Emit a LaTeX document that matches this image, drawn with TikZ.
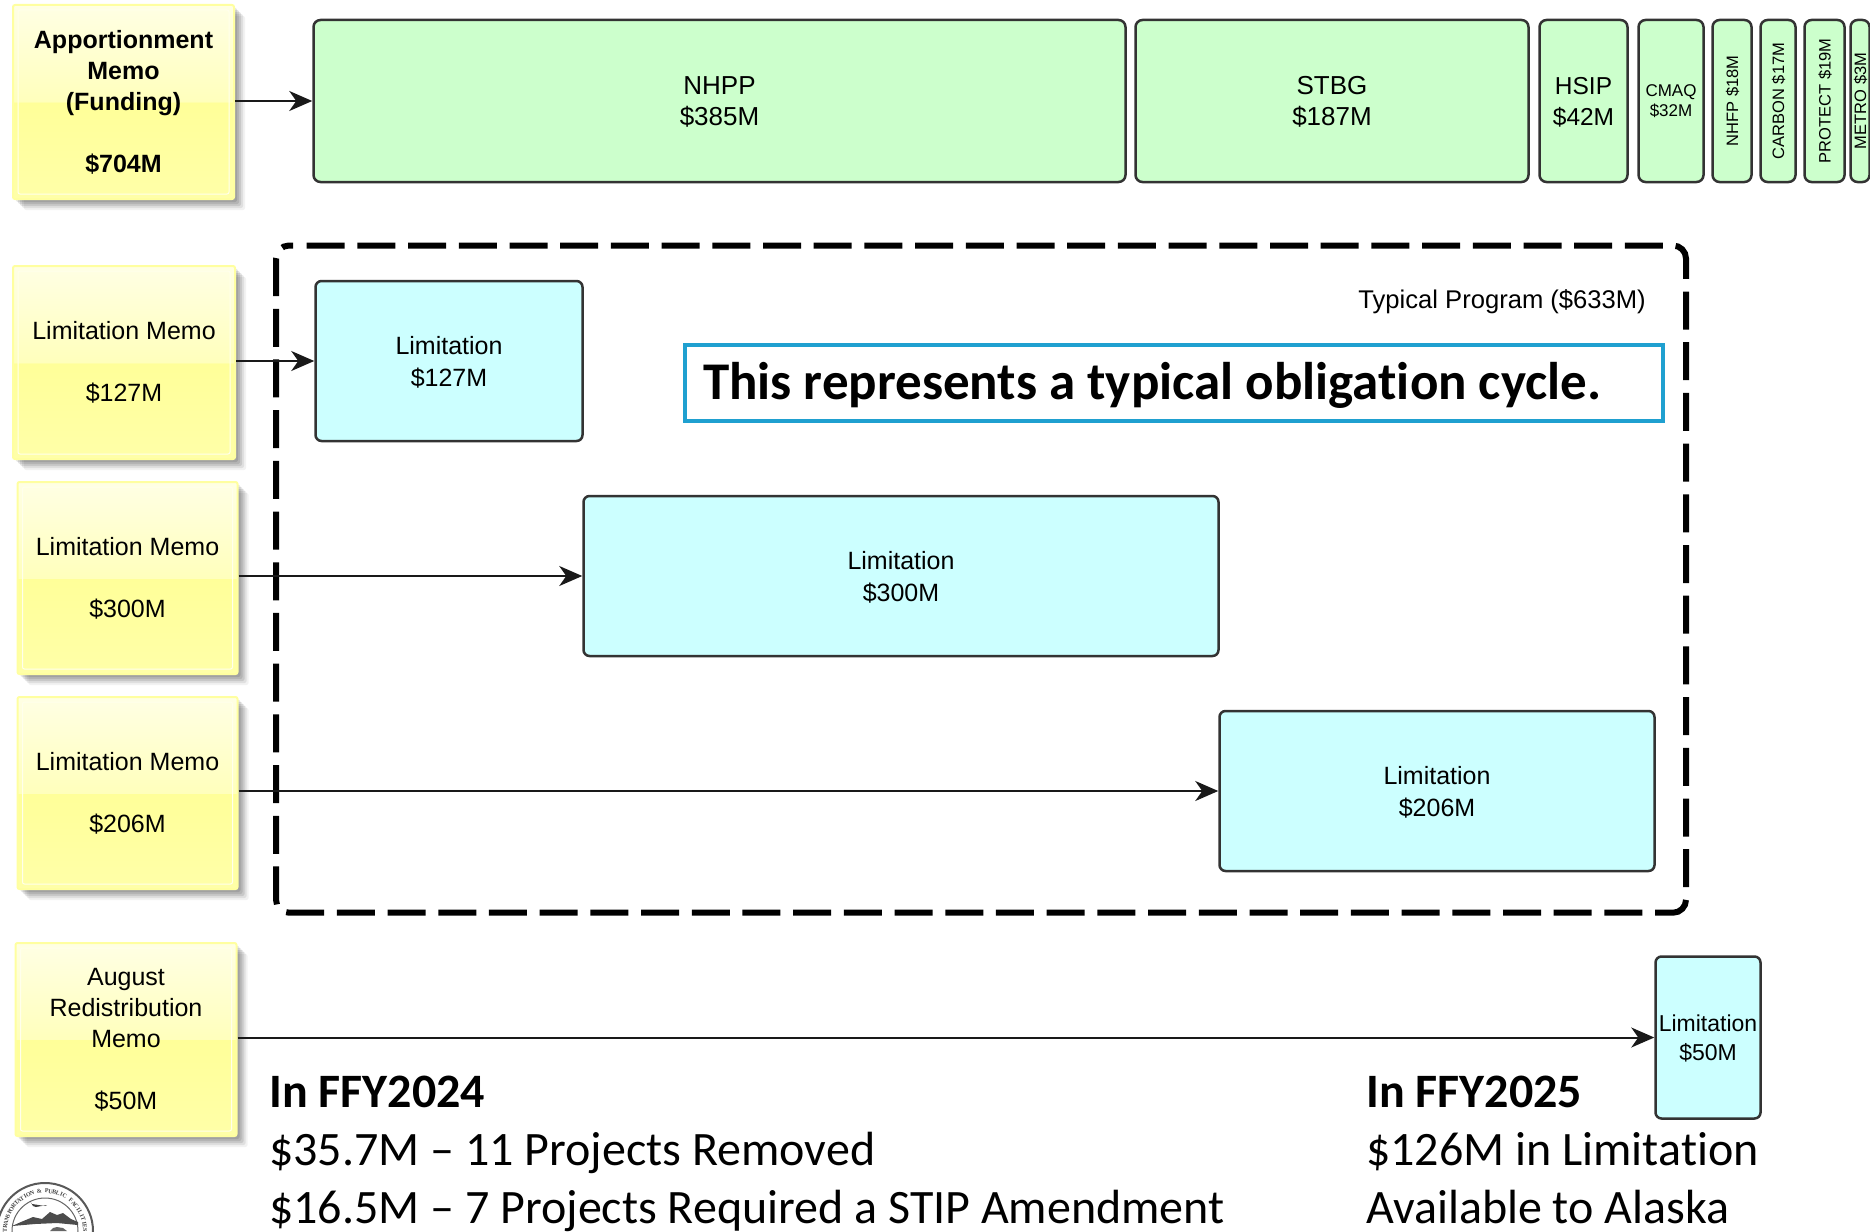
\documentclass[tikz,border=0pt]{standalone}
\usepackage{fontspec}
\setmainfont{Liberation Sans}
\newfontfamily\slidefont[Ligatures=NoCommon]{Carlito}
\newfontfamily\sealfont{Liberation Serif}
\usetikzlibrary{arrows.meta,shadows}
\definecolor{memotop}{HTML}{FFFFE4}
\definecolor{memomid}{HTML}{FFFFBC}
\definecolor{memolow}{HTML}{FFFF99}
\definecolor{memoend}{HTML}{FFFFA8}
\definecolor{memoedge}{HTML}{FFFFA0}
\definecolor{fundgreen}{HTML}{CCFFCC}
\definecolor{limitblue}{HTML}{CCFFFF}
\definecolor{boxedge}{HTML}{333333}
\definecolor{noteblue}{HTML}{1FA0D0}
\pgfdeclareverticalshading{memoshade}{100bp}{color(0bp)=(memoend);color(25bp)=(memoend);color(49.9bp)=(memolow);color(50bp)=(memomid);color(75bp)=(memotop);color(100bp)=(memotop)}
\tikzset{
    memo/.style={shading=memoshade, draw=memoedge, line width=2pt, rounded corners=2pt, align=center, font=\fontsize{25}{31}\selectfont,
        drop shadow={shadow xshift=3pt, shadow yshift=-3pt, opacity=.10, fill=black},
        drop shadow={shadow xshift=5pt, shadow yshift=-5pt, opacity=.10, fill=black},
        drop shadow={shadow xshift=7pt, shadow yshift=-7pt, opacity=.10, fill=black},
        drop shadow={shadow xshift=9pt, shadow yshift=-9pt, opacity=.08, fill=black},
        drop shadow={shadow xshift=11pt, shadow yshift=-11pt, opacity=.05, fill=black},
        path picture={\draw[white!30!memotop, line width=1pt] ([xshift=5pt,yshift=-5pt]path picture bounding box.north west) rectangle ([xshift=-5pt,yshift=5pt]path picture bounding box.south east);}},
    fund/.style={draw=boxedge, fill=fundgreen, line width=2.5pt, rounded corners=7pt, align=center, inner sep=0pt, minimum height=162pt, text depth=0pt, font=\fontsize{26}{31}\selectfont},
    limit/.style={draw=boxedge, fill=limitblue, line width=2.5pt, rounded corners=6pt, align=center, inner sep=0pt, text depth=0pt, font=\fontsize{25}{32}\selectfont},
    feed/.style={draw=black!90, line width=2pt, -{Stealth[length=23pt,width=20pt,inset=7pt]}},
    slide/.style={font=\slidefont\fontsize{48}{58}\selectfont, anchor=north west, align=left, inner sep=0pt}
}
\begin{document}
\begin{tikzpicture}[x=1pt,y=-1pt]
    \useasboundingbox (0,0) rectangle (1870,1231);

    % memos
    \node[memo, minimum width=221pt, minimum height=194pt] (apportion) at (123.5,102) {\textbf{Apportionment}\\\textbf{Memo}\\\textbf{(Funding)}\\[31pt]\textbf{\$704M}};
    \node[memo, minimum width=222pt, minimum height=193pt] (memoA) at (124,362.5) {Limitation Memo\\[31pt]\$127M};
    \node[memo, minimum width=220pt, minimum height=192pt] (memoB) at (127.5,578) {Limitation Memo\\[31pt]\$300M};
    \node[memo, minimum width=220pt, minimum height=192pt] (memoC) at (127.5,793) {Limitation Memo\\[31pt]\$206M};
    \node[memo, minimum width=221pt, minimum height=193pt] (memoD) at (126,1039.5) {August\\Redistribution\\Memo\\[31pt]\$50M};

    % funding row
    \node[fund, minimum width=812pt] (nhpp) at (719.5,101) {NHPP\\\$385M};
    \node[fund, minimum width=393pt] (stbg) at (1332,101) {STBG\\\$187M};
    \node[fund, minimum width=88pt, font=\fontsize{24.5}{31}\selectfont] (hsip) at (1583.5,101) {HSIP\\\$42M};
    \node[fund, minimum width=65pt, font=\fontsize{17}{20}\selectfont] (cmaq) at (1671,101) {CMAQ\\\$32M};
    \foreach \cx/\bw/\lab/\boxid in {1732/39/NHFP \$18M/nhfp, 1778/35/CARBON \$17M/carbon, 1824.5/40/PROTECT \$19M/protect, 1860/19/METRO \$3M/metro} {
        \node[fund, rotate=90, minimum width=162pt, minimum height=\bw pt, font=\fontsize{16.5}{20}\selectfont] (\boxid) at (\cx,101) {\lab};
    }

    % typical program
    \draw[black, line width=6pt, rounded corners=13pt, dash pattern=on 38pt off 12.7pt] (306.7,245.5) -- (1686,245.5) -- (1686,912.7) -- (276,912.7) -- (276,245.5) -- (293,245.5);
    \node[font=\fontsize{25.6}{31}\selectfont, anchor=east, inner sep=0pt] (programlabel) at (1646,302) {Typical Program (\$633M)};
    \node[limit, minimum width=267pt, minimum height=160pt] (limitA) at (449,361) {Limitation\\\$127M};
    \node[limit, minimum width=635pt, minimum height=160pt] (limitB) at (901,576) {Limitation\\\$300M};
    \node[limit, minimum width=435pt, minimum height=160pt] (limitC) at (1437,791) {Limitation\\\$206M};
    \node[limit, minimum width=105pt, minimum height=162pt, font=\fontsize{23}{29}\selectfont] (limitD) at (1708,1037.5) {Limitation\\\$50M};
    \node[draw=noteblue, line width=4pt, fill=white, minimum width=978pt, minimum height=76pt, inner sep=0pt, text width=942pt, text depth=5pt, align=left, font=\slidefont\bfseries\fontsize{53}{60}\selectfont] (note) at (1174,383) {\spaceskip=0pt This represents a typical obligation cycle.};

    % arrows
    \draw[feed] (apportion.east |- nhpp.west) -- (nhpp.west);
    \draw[feed] (memoA.east |- limitA.west) -- (limitA.west);
    \draw[feed] (memoB.east |- limitB.west) -- (limitB.west);
    \draw[feed] (memoC.east |- limitC.west) -- (limitC.west);
    \draw[feed] (memoD.east |- limitD.west) -- (limitD.west);

    % notes at the bottom
    \node[slide] (fyA) at (269,1075.5) {\textbf{In FFY2024}\\\$35.7M – 11 Projects Removed\\\$16.5M – 7 Projects Required a STIP Amendment};
    \node[slide] (fyB) at (1366,1075.5) {\textbf{In FFY2025}\\\$126M in Limitation\\Available to Alaska};

    % seal
    \begin{scope}[shift={(45,1231)},yscale=-1]
        \draw[black!65, line width=2pt, fill=white] (0,0) circle (48);
        \draw[black!60, line width=1pt] (0,0) circle (33);
        \fill[black!70] (-33,5) -- (-24,9) -- (-12,14) -- (-3,12) -- (5,19) -- (12,16) -- (18,18) -- (26,12) -- (33,9) -- (33,6) -- (12,8) -- (-10,7) -- cycle;
        \fill[black!75] (-15,30) -- (-13,27) -- (0,25) -- (2,26) -- (-9,24) -- (-12,25) -- cycle;
        \fill[black!60] (5,0) -- (8,3) -- (12,4) -- (18,3) -- (22,0) -- cycle;
        \foreach \ch [count=\i] in {T,R,A,N,S,P,O,R,T,A,T,I,O,N,{},\&,{},P,U,B,L,I,C,{},F,A,C,I,L,I,T,I,E,S} {
            \pgfmathsetmacro{\ang}{90-(\i-17.5)*5.4}
            \node[rotate=\ang-90, inner sep=0pt, font=\sealfont\bfseries\fontsize{6}{7}\selectfont, black!75] (sealch\i) at (\ang:40) {\ch};
        }
    \end{scope}
\end{tikzpicture}
\end{document}
